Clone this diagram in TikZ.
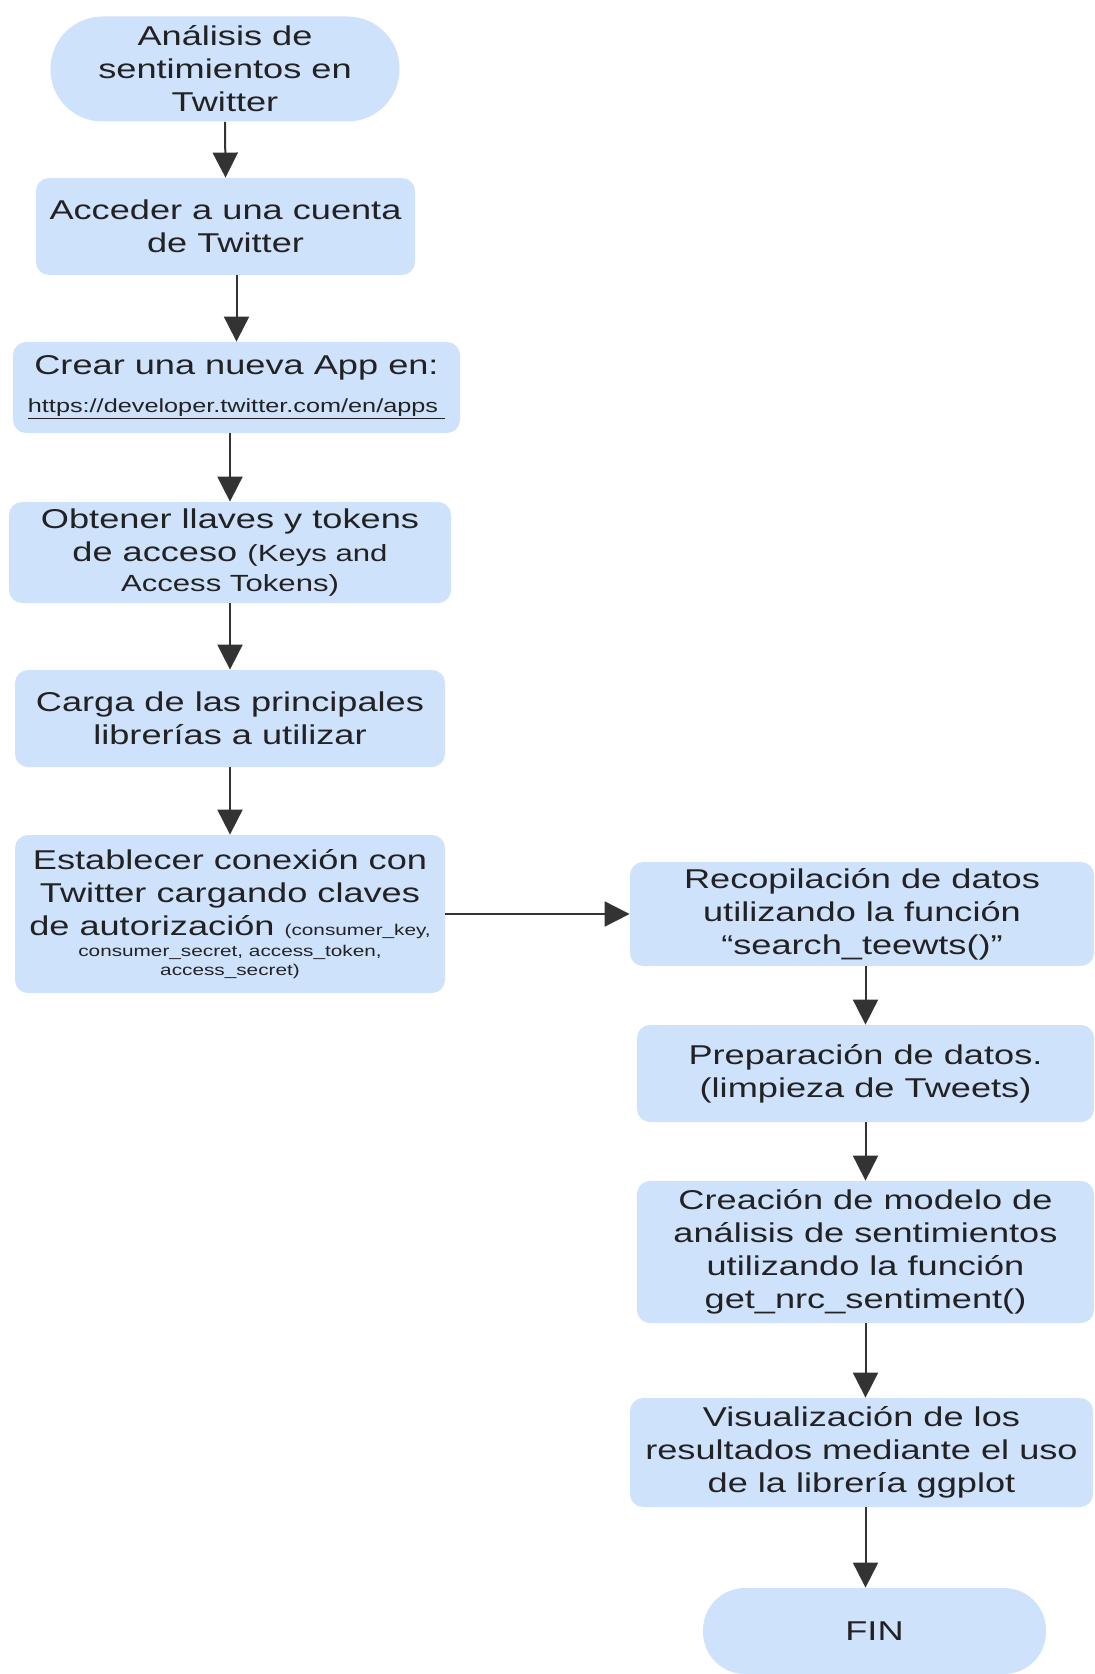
\documentclass[tikz,border=0pt]{standalone}
\usepackage{fontspec}
\setmainfont{Liberation Sans}[FakeStretch=1.33]
\usetikzlibrary{arrows.meta,positioning}
\definecolor{cajaazul}{RGB}{207,226,252}
\definecolor{flecha}{RGB}{51,51,51}
\definecolor{tinta}{RGB}{34,34,34}
\newcommand{\letrachica}{\fontsize{11.7}{14}\selectfont}
\newcommand{\letraurl}{\fontsize{9.5}{11}\selectfont}
\newcommand{\letramini}{\fontsize{7.8}{9}\selectfont}
\begin{document}
\begin{tikzpicture}[
paso/.style={rectangle, rounded corners=6.5pt, fill=cajaazul, text=tinta, align=center, inner sep=2pt, font=\fontsize{13.6}{16.5}\selectfont},
extremo/.style={paso, rounded corners=21pt},
flujo/.style={draw=flecha, line width=1pt, -{Triangle[length=12.5pt, width=12.5pt]}},
]
\useasboundingbox (0,0) rectangle (547pt,-837pt);

\node (inicio) [extremo, rounded corners=26pt, minimum width=174.5pt, minimum height=52.5pt] at (112.5pt,-34.5pt) {Análisis de\\ sentimientos en\\ Twitter};
\node (acceder) [paso, minimum width=189.5pt, minimum height=48.5pt] at (112.75pt,-113.25pt) {Acceder a una cuenta\\ de Twitter};
\node (crear) [paso, minimum width=223.5pt, minimum height=45.5pt] at (118.25pt,-193.75pt) {Crear una nueva App en:\\[2.5pt] {\letraurl\underline{https://developer.twitter.com/en/apps\ }}};
\node (obtener) [paso, minimum width=221pt, minimum height=50.5pt] at (115pt,-276.25pt) {Obtener llaves y tokens\\ de acceso {\letrachica(Keys and}\\[-1.5pt] {\letrachica Access Tokens)}};
\node (carga) [paso, minimum width=215pt, minimum height=48.5pt] at (115pt,-359.25pt) {Carga de las principales\\ librerías a utilizar};
\node (establecer) [paso, minimum width=215pt, minimum height=79pt] at (115pt,-457pt) {Establecer conexión con\\ Twitter cargando claves\\ de autorización {\letramini(consumer\_key,}\\[-6pt] {\letramini consumer\_secret, access\_token,}\\[-7pt] {\letramini access\_secret)}};

\node (recop) [paso, minimum width=232pt, minimum height=52pt] at (431pt,-457pt) {Recopilación de datos\\ utilizando la función\\ “search\_teewts()”};
\node (prep) [paso, minimum width=228.5pt, minimum height=48.5pt] at (432.75pt,-536.75pt) {Preparación de datos.\\ (limpieza de Tweets)};
\node (creacion) [paso, minimum width=228.5pt, minimum height=71pt] at (432.75pt,-626pt) {Creación de modelo de\\ análisis de sentimientos\\ utilizando la función\\ get\_nrc\_sentiment()};
\node (visual) [paso, minimum width=231.5pt, minimum height=54.5pt] at (430.75pt,-726.25pt) {Visualización de los\\ resultados mediante el uso\\ de la librería ggplot};
\node (fin) [extremo, minimum width=171.5pt, minimum height=43pt] at (437.25pt,-815.5pt) {FIN};

\draw[flujo] (inicio.south) -- (acceder.north);
\draw[flujo] (acceder.south -| crear.north) -- (crear.north);
\draw[flujo] (crear.south -| obtener.north) -- (obtener.north);
\draw[flujo] (obtener.south) -- (carga.north);
\draw[flujo] (carga.south) -- (establecer.north);
\draw[flujo] (establecer.east) -- (recop.west);
\draw[flujo] (recop.south -| prep.north) -- (prep.north);
\draw[flujo] (prep.south) -- (creacion.north);
\draw[flujo] (creacion.south) -- (creacion.south |- visual.north);
\draw[flujo] (visual.south -| creacion.south) -- (fin.north -| creacion.south);
\end{tikzpicture}
\end{document}
